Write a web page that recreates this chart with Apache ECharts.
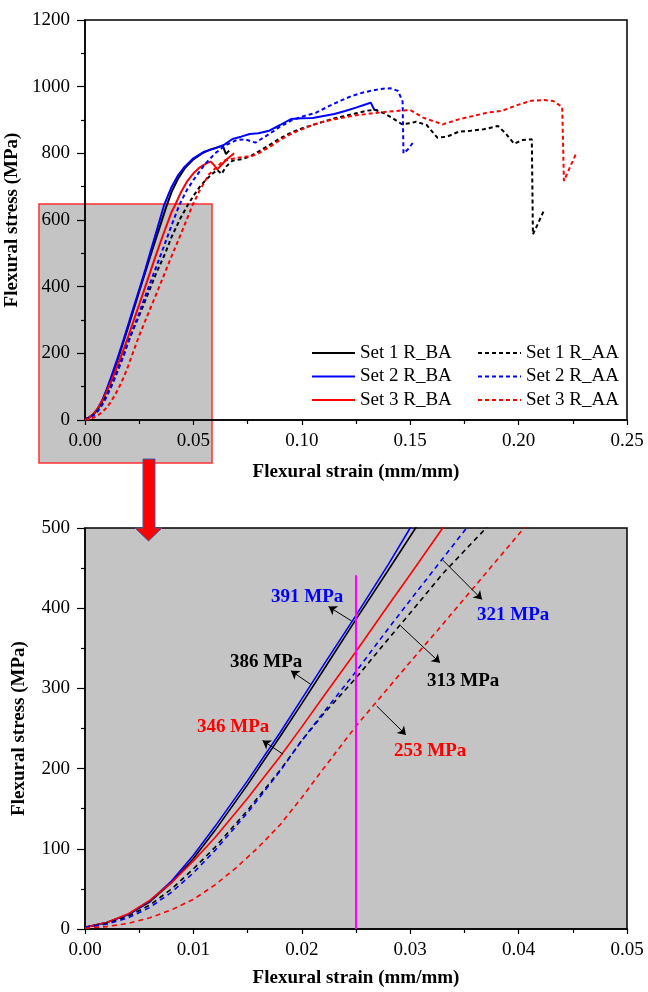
<!DOCTYPE html>
<html><head><meta charset="utf-8">
<script src="https://cdn.jsdelivr.net/npm/echarts@6/dist/echarts.min.js"></script>
<style>html,body{margin:0;padding:0;background:#fff}#c{width:648px;height:992px}</style>
</head><body><div id="c"></div>
<script>
// ---- Data (strain mm/mm, stress MPa) ----
const set1BA_strain = [0,0.002,0.004,0.006,0.008,0.010,0.012,0.015,0.018,0.020,0.022,0.025,0.028,0.0305,0.033,0.035,0.0375,0.040,0.043,0.046,0.050,0.054,0.058,0.061,0.0635,0.065,0.0665];
const set1BA_stress = [2,8,18,34,58,88,123,180,240,281,323,386,448,500,550,590,640,685,725,755,782,800,812,818,823,798,808];

const set2BA_strain = [0,0.002,0.004,0.006,0.008,0.010,0.012,0.015,0.018,0.020,0.022,0.025,0.028,0.030,0.033,0.0365,0.040,0.043,0.046,0.050,0.055,0.060,0.064,0.068,0.072,0.076,0.080,0.085,0.090,0.095,0.100,0.105,0.110,0.115,0.120,0.125,0.130,0.1318,0.1335,0.135];
const set2BA_stress = [2,8,18,35,60,92,128,185,245,287,329,391,455,500,567,645,700,735,760,785,805,815,825,843,850,858,860,868,885,903,905,906,912,918,927,937,948,952,930,930];

const set3BA_strain = [0,0.002,0.004,0.006,0.008,0.010,0.012,0.015,0.018,0.020,0.022,0.025,0.028,0.030,0.033,0.036,0.040,0.0416,0.044,0.047,0.050,0.053,0.056,0.058,0.0595,0.061,0.0625,0.065,0.0688];
const set3BA_stress = [2,8,19,36,58,85,114,163,215,252,290,346,404,442,500,555,625,645,680,715,740,758,770,775,765,752,762,780,800];

const set1AA_strain = [0,0.002,0.004,0.006,0.008,0.010,0.012,0.015,0.018,0.020,0.022,0.025,0.028,0.030,0.033,0.037,0.040,0.044,0.0474,0.050,0.053,0.056,0.059,0.061,0.063,0.065,0.068,0.072,0.076,0.080,0.085,0.090,0.095,0.100,0.105,0.110,0.115,0.120,0.125,0.130,0.134,0.138,0.142,0.146,0.150,0.1527,0.1576,0.1625,0.167,0.1724,0.178,0.1839,0.1905,0.194,0.1979,0.202,0.2061,0.2066,0.209,0.2119];
const set1AA_stress = [2,7,16,30,50,75,102,148,198,235,268,313,362,394,443,500,550,605,645,672,700,722,740,750,738,760,778,782,790,805,825,845,862,875,885,895,905,912,920,928,930,920,905,888,890,895,885,847,850,865,868,872,882,860,829,840,842,557,590,632];

const set2AA_strain = [0,0.002,0.004,0.006,0.008,0.010,0.012,0.015,0.018,0.020,0.022,0.025,0.028,0.030,0.0352,0.040,0.0435,0.047,0.050,0.055,0.060,0.065,0.070,0.0737,0.0786,0.0852,0.090,0.095,0.100,0.1066,0.112,0.118,0.123,0.128,0.1329,0.1375,0.1411,0.1444,0.1465,0.1469,0.149,0.1518];
const set2AA_stress = [2,6,14,27,46,70,98,145,197,235,270,321,375,410,500,585,645,690,720,765,800,825,840,842,832,859,880,898,910,922,940,958,972,982,989,994,995,987,955,800,812,837];

const set3AA_strain = [0,0.002,0.004,0.006,0.008,0.010,0.012,0.014,0.016,0.018,0.020,0.022,0.025,0.028,0.030,0.0325,0.035,0.0405,0.045,0.0496,0.053,0.0572,0.0638,0.0704,0.077,0.080,0.085,0.090,0.095,0.100,0.105,0.110,0.115,0.120,0.125,0.130,0.135,0.140,0.145,0.150,0.156,0.165,0.1724,0.179,0.1855,0.1921,0.2004,0.206,0.2119,0.216,0.2201,0.2209,0.2238,0.2267];
const set3AA_stress = [1,3,7,14,24,37,55,77,102,130,164,200,253,301,333,372,412,500,570,645,690,737,777,787,792,800,818,840,858,872,885,895,902,908,914,918,922,925,928,930,907,887,902,912,922,927,947,958,960,957,939,717,760,802];

const seriesNames = ['Set 1 R_BA','Set 2 R_BA','Set 3 R_BA','Set 1 R_AA','Set 2 R_AA','Set 3 R_AA'];
const seriesColors = ['#000000','#0000ff','#ff0000','#000000','#0000ff','#ff0000'];
const seriesDashed = [false,false,false,true,true,true];
const seriesStrain = [set1BA_strain,set2BA_strain,set3BA_strain,set1AA_strain,set2AA_strain,set3AA_strain];
const seriesStress = [set1BA_stress,set2BA_stress,set3BA_stress,set1AA_stress,set2AA_stress,set3AA_stress];

// annotation values at strain = 0.025
const markStrain = 0.025;
const markTop = 441;
const annotTexts = ['391 MPa','386 MPa','346 MPa','321 MPa','313 MPa','253 MPa'];
const annotColors = ['#0000ff','#000000','#ff0000','#0000ff','#000000','#ff0000'];
// arrow tail (on curve) and head (toward label), in data coords
const arrowTail = [[0.0246,384],[0.02082,305],[0.01827,218],[0.0330,460],[0.02911,378],[0.02691,278]];
const arrowHead = [[0.02247,402],[0.0190,322],[0.01638,235],[0.03662,411],[0.03275,332],[0.02961,242]];

const topXTicks = {min:0,max:0.25,interval:0.05};
const topYTicks = {min:0,max:1200,interval:200};
const botXTicks = {min:0,max:0.05,interval:0.01};
const botYTicks = {min:0,max:500,interval:100};

// ---- Build ----
const FONT = 'Liberation Serif';
function pairs(x,y){return x.map((v,i)=>[v,y[i]]);}
const series = [];
seriesNames.forEach((n,i)=>{
  const d = pairs(seriesStrain[i],seriesStress[i]);
  series.push({type:'line',name:n,xAxisIndex:0,yAxisIndex:0,data:d,symbol:'none',
    lineStyle:{color:seriesColors[i],width:2,type:seriesDashed[i]?[4,3]:'solid'},itemStyle:{color:seriesColors[i]},z:3});
  series.push({type:'line',name:n,xAxisIndex:1,yAxisIndex:1,data:d,symbol:'none',
    lineStyle:{color:seriesColors[i],width:1.6,type:seriesDashed[i]?[5,4]:'solid'},itemStyle:{color:seriesColors[i]},z:3});
});
// annotation arrows + magenta marker line on the bottom chart
series.push({type:'line',name:'_annot',xAxisIndex:1,yAxisIndex:1,data:[],symbol:'none',silent:true,
  markLine:{silent:true,animation:false,symbol:['none','arrow'],symbolSize:8,label:{show:false},
    lineStyle:{color:'#000',width:1,type:'solid'},
    data:[
      [{coord:[markStrain,0],symbol:'none',lineStyle:{color:'#ff00ff',width:2,type:'solid'}},{coord:[markStrain,markTop],symbol:'none'}]
    ].concat(arrowTail.map((t,i)=>[{coord:t},{coord:arrowHead[i]}]))
  }});

function axisBase(extra){
  return Object.assign({
    type:'value', nameLocation:'middle',
    axisLine:{show:true,onZero:false,lineStyle:{color:'#000',width:1.5}},
    axisTick:{show:true,inside:false,lineStyle:{color:'#000',width:1.2}},
    minorTick:{show:true,splitNumber:2,length:4,lineStyle:{color:'#000',width:1.2}},
    splitLine:{show:false}, minorSplitLine:{show:false},
    axisLabel:{color:'#000',fontFamily:FONT,fontSize:19},
    nameTextStyle:{color:'#000',fontFamily:FONT,fontSize:19,fontWeight:'bold'}
  },extra);
}

const annotPos = [[271,597],[230,662],[197,727],[477,615],[427,681],[394,751]];
const graphic = [
  {type:'rect',z:-10,shape:{x:39,y:204,width:173,height:259},style:{fill:'#c4c4c4',stroke:'#ff3030',lineWidth:1.5}},
  {type:'polygon',z:100,shape:{points:[[143,459],[155,459],[155,528],[162,528],[148.5,541],[135,528],[143,528]]},style:{fill:'#ff0000',stroke:'#3a5fa8',lineWidth:1}}
].concat(annotTexts.map((t,i)=>({type:'text',z:100,x:annotPos[i][0],y:annotPos[i][1],
  style:{text:t,fill:annotColors[i],font:'bold 19px "'+FONT+'"',verticalAlign:'middle',align:'left'}})));

const legendBase = {orient:'vertical',top:343,itemWidth:43,itemHeight:14,itemGap:3.5,padding:0,
  itemStyle:{opacity:0,borderWidth:0},
  textStyle:{color:'#000',fontFamily:FONT,fontSize:19,lineHeight:20},selectedMode:false};

const option = {
  backgroundColor:'#ffffff',
  animation:false,
  grid:[
    {left:85,right:21,top:20,height:400,show:true,containLabel:false,outerBoundsMode:'none',backgroundColor:'transparent',borderColor:'#000',borderWidth:1.5},
    {left:85,right:21,top:528,height:401,show:true,containLabel:false,outerBoundsMode:'none',backgroundColor:'#c4c4c4',borderColor:'#000',borderWidth:1.5}
  ],
  xAxis:[
    axisBase({gridIndex:0,min:topXTicks.min,max:topXTicks.max,interval:topXTicks.interval,name:'Flexural strain (mm/mm)',nameGap:43,
      axisTick:{show:true,length:5,lineStyle:{color:'#000',width:1.2}},
      axisLabel:{color:'#000',fontFamily:FONT,fontSize:19,margin:12,formatter:v=>v.toFixed(2)}}),
    axisBase({gridIndex:1,min:botXTicks.min,max:botXTicks.max,interval:botXTicks.interval,name:'Flexural strain (mm/mm)',nameGap:40,
      axisTick:{show:true,length:5,lineStyle:{color:'#000',width:1.2}},
      axisLabel:{color:'#000',fontFamily:FONT,fontSize:19,margin:12,formatter:v=>v.toFixed(2)}})
  ],
  yAxis:[
    axisBase({gridIndex:0,min:topYTicks.min,max:topYTicks.max,interval:topYTicks.interval,name:'Flexural stress (MPa)',nameGap:56,
      axisTick:{show:true,length:8,lineStyle:{color:'#000',width:1.2}},
      axisLabel:{color:'#000',fontFamily:FONT,fontSize:19,margin:15,formatter:v=>String(v)}}),
    axisBase({gridIndex:1,min:botYTicks.min,max:botYTicks.max,interval:botYTicks.interval,name:'Flexural stress (MPa)',nameGap:56,
      axisTick:{show:true,length:8,lineStyle:{color:'#000',width:1.2}},
      axisLabel:{color:'#000',fontFamily:FONT,fontSize:19,margin:15,formatter:v=>String(v)}})
  ],
  legend:[
    Object.assign({data:seriesNames.slice(0,3),left:311},legendBase),
    Object.assign({data:seriesNames.slice(3,6),left:477},legendBase)
  ],
  graphic:graphic,
  series:series
};
const chart = echarts.init(document.getElementById('c'),null,{renderer:'canvas'});
chart.setOption(option);
</script></body></html>
